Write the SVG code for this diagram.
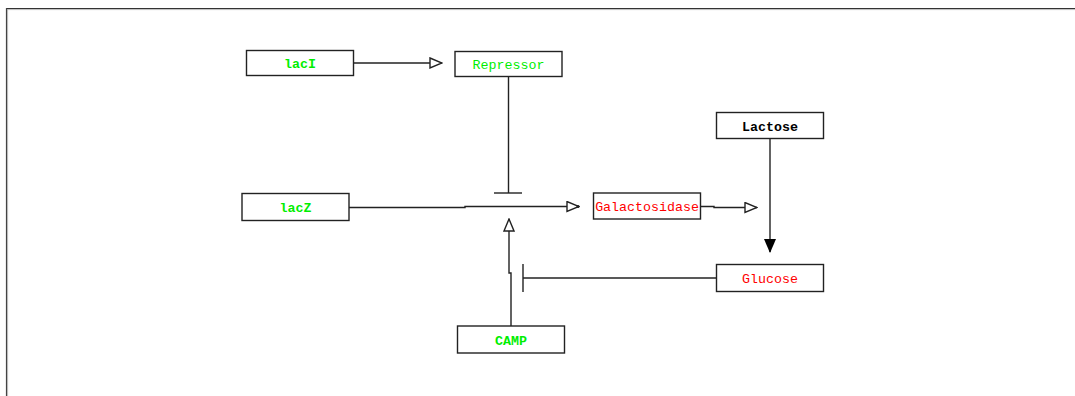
<svg xmlns="http://www.w3.org/2000/svg" width="1075" height="396" viewBox="0 0 1075 396">
<style>
.box{fill:#fff;stroke:#222;stroke-width:1.4}
.t{font-family:"Liberation Mono","DejaVu Sans Mono",monospace;font-size:13.3px;text-anchor:middle}
.b{font-weight:bold}
.g{fill:#00ee00}
.r{fill:#ff0000}
.k{fill:#000}
.ln{fill:none;stroke:#222;stroke-width:1.4}
</style>
<defs>
<marker id="open" viewBox="0 0 14 12" refX="13" refY="6" markerWidth="14" markerHeight="12" markerUnits="userSpaceOnUse" orient="auto">
<path d="M1,1 L13,6 L1,11 Z" fill="#fff" stroke="#222" stroke-width="1.4"/>
</marker>
<marker id="filled" viewBox="0 0 14 14" refX="13" refY="7" markerWidth="14" markerHeight="14" markerUnits="userSpaceOnUse" orient="auto">
<path d="M0,1 L14,7 L0,13 Z" fill="#000"/>
</marker>
</defs>
<rect width="1075" height="396" fill="#fff"/>
<g id="frame">
<line x1="6" y1="8.5" x2="1075" y2="8.5" stroke="#333" stroke-width="1.2"/>
<line x1="6" y1="9.6" x2="1075" y2="9.6" stroke="#aaa" stroke-width="0.8"/>
<line x1="6.5" y1="8" x2="6.5" y2="396" stroke="#444" stroke-width="1.2"/>
<line x1="7.6" y1="9" x2="7.6" y2="396" stroke="#aaa" stroke-width="0.8"/>
</g>
<g id="connectors">
<line class="ln" x1="354" y1="63" x2="442" y2="63" marker-end="url(#open)"/>
<line class="ln" x1="508.5" y1="77" x2="508.5" y2="193"/>
<line class="ln" x1="494" y1="193" x2="522" y2="193"/>
<polyline class="ln" points="349,207.5 465,207.5 465,206.5 579,206.5" marker-end="url(#open)"/>
<circle cx="578" cy="206.5" r="1.5" fill="#222"/>
<polyline class="ln" points="511,326 511,273 509,273 509,219" marker-end="url(#open)"/>
<line class="ln" x1="716" y1="278" x2="523" y2="278"/>
<line class="ln" x1="523" y1="264" x2="523" y2="292"/>
<polyline class="ln" points="701,206.5 714,206.5 714,207.5 757,207.5" marker-end="url(#open)"/>
<line class="ln" x1="770" y1="139" x2="770" y2="252" marker-end="url(#filled)"/>
</g>
<g id="lacI">
<rect class="box" x="246.5" y="50.5" width="107" height="25"/>
<text class="t b g" x="300" y="68">lacI</text>
</g>
<g id="Repressor">
<rect class="box" x="455" y="51.5" width="107" height="25"/>
<text class="t g" x="508.5" y="69">Repressor</text>
</g>
<g id="lacZ">
<rect class="box" x="242" y="193.5" width="107" height="27"/>
<text class="t b g" x="295.5" y="212">lacZ</text>
</g>
<g id="Galactosidase">
<rect class="box" x="593.5" y="193" width="107" height="26"/>
<text class="t r" x="647" y="211">Galactosidase</text>
</g>
<g id="Lactose">
<rect class="box" x="716.5" y="112.5" width="107" height="26"/>
<text class="t b k" x="770" y="130.5">Lactose</text>
</g>
<g id="Glucose">
<rect class="box" x="716.5" y="264.5" width="107" height="27"/>
<text class="t r" x="770" y="283">Glucose</text>
</g>
<g id="CAMP">
<rect class="box" x="457.5" y="326" width="107" height="27"/>
<text class="t b g" x="511" y="344.5">CAMP</text>
</g>
</svg>
